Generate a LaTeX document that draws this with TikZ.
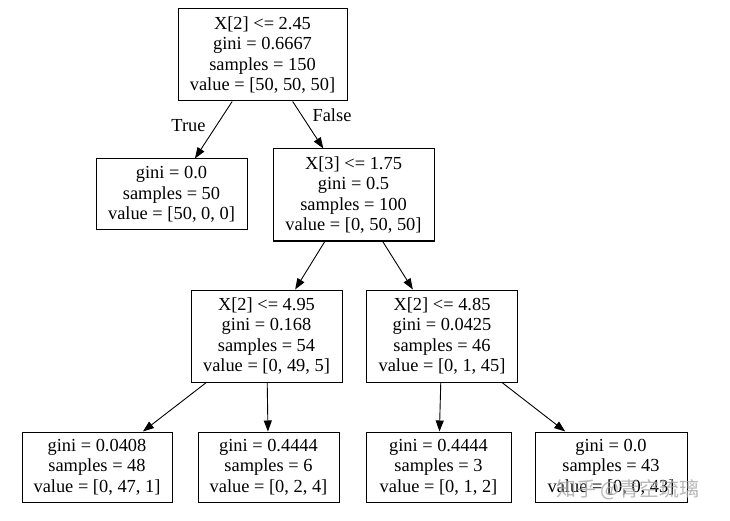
\documentclass[tikz,border=0pt]{standalone}
\usepackage{fontspec}
\setmainfont{Liberation Serif}
\newfontfamily\cjkfont{Noto Sans CJK SC}
\usetikzlibrary{arrows.meta}
\begin{document}
\begin{tikzpicture}[x=1pt,y=-1pt,
  treebox/.style={draw=black, line width=1pt, fill=white, inner sep=0pt, align=center,
    font=\fontsize{18.4}{20.3}\selectfont},
  edgelbl/.style={inner sep=0pt, font=\fontsize{18.4}{20.3}\selectfont},
  link/.style={line width=0.9pt, -{Triangle[length=11pt,width=8pt]}}]
\useasboundingbox[fill=white] (0,0) rectangle (730,521);
\node[treebox, minimum width=169pt, minimum height=92pt] (root) at (262.5,55)
  {X[2] <= 2.45\\gini = 0.6667\\samples = 150\\value = [50, 50, 50]};
\node[treebox, minimum width=151pt, minimum height=71pt] (l0) at (171.5,194.5)
  {gini = 0.0\\samples = 50\\value = [50, 0, 0]};
\node[treebox, minimum width=161pt, minimum height=92pt] (x3) at (353.5,195)
  {X[3] <= 1.75\\gini = 0.5\\samples = 100\\value = [0, 50, 50]};
\node[treebox, minimum width=151pt, minimum height=92pt] (a) at (266.5,336)
  {X[2] <= 4.95\\gini = 0.168\\samples = 54\\value = [0, 49, 5]};
\node[treebox, minimum width=151pt, minimum height=92pt] (b) at (442,336)
  {X[2] <= 4.85\\gini = 0.0425\\samples = 46\\value = [0, 1, 45]};
\node[treebox, minimum width=150pt, minimum height=70pt] (l1) at (97,467)
  {gini = 0.0408\\samples = 48\\value = [0, 47, 1]};
\node[treebox, minimum width=141pt, minimum height=70pt] (l2) at (268.5,467)
  {gini = 0.4444\\samples = 6\\value = [0, 2, 4]};
\node[treebox, minimum width=145pt, minimum height=70pt] (l3) at (438.5,467)
  {gini = 0.4444\\samples = 3\\value = [0, 1, 2]};
\node[treebox, minimum width=152pt, minimum height=70pt] (l4) at (611,467)
  {gini = 0.0\\samples = 43\\value = [0, 0, 43]};
\draw[link] (root) -- (l0);
\draw[link] (root) -- (x3);
\draw[link] (x3) -- (a);
\draw[link] (x3) -- (b);
\draw[link] (a) -- (l1);
\draw[link] (a) -- (l2);
\draw[link] (b) -- (l3);
\draw[link] (b) -- (l4);
\node[edgelbl] (tl) at (188.5,126) {True};
\node[edgelbl] (fl) at (332,115) {False};
\node[inner sep=0pt, text=black!35, opacity=0.8, font=\cjkfont\fontsize{20}{22}\selectfont] (wm) at (628,490) {知乎 @青空琉璃};
\end{tikzpicture}
\end{document}
